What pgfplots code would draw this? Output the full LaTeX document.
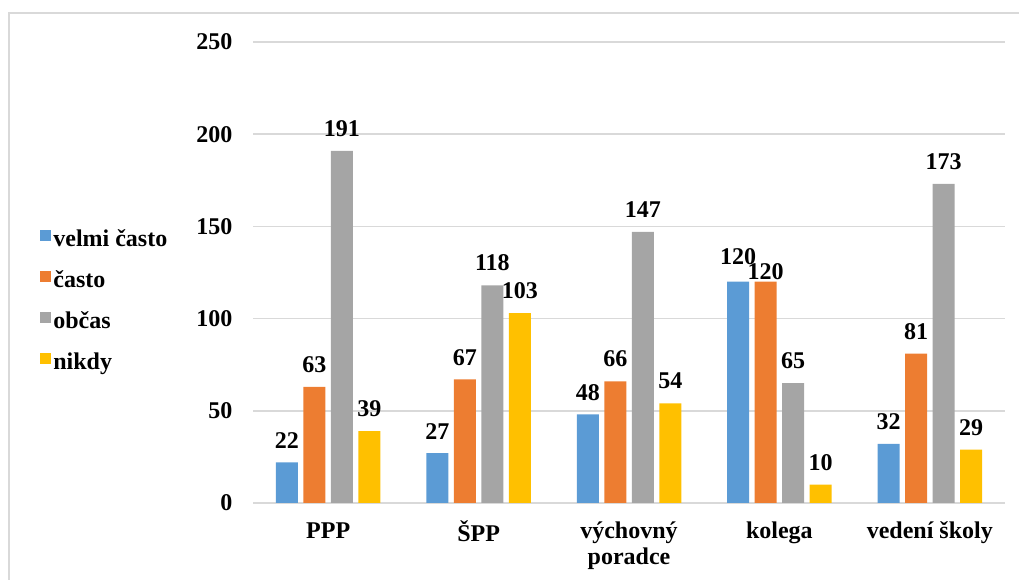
\documentclass[border=0pt]{standalone}
\usepackage{fontspec}
\setmainfont{Liberation Serif}
\usepackage{pgfplots}
\pgfplotsset{compat=1.18}
\definecolor{cblue}{HTML}{5B9BD5}
\definecolor{corange}{HTML}{ED7D31}
\definecolor{cgray}{HTML}{A5A5A5}
\definecolor{cyellow}{HTML}{FFC000}
\definecolor{gridgray}{HTML}{D9D9D9}
\newcommand{\bigbf}{\bfseries\fontsize{24}{26}\selectfont}
\newcommand{\uplab}[1]{\raisebox{3pt}{#1}}
\newcommand{\downlab}[1]{\raisebox{-12pt}[0pt][0pt]{#1}}
\newcommand{\st}{\rule{0pt}{18pt}}
\begin{document}
\begin{tikzpicture}
\useasboundingbox (0,0) rectangle (1019pt,580pt);
\draw[gridgray, line width=1.5pt] (9pt,0pt) -- (9pt,567pt) -- (1019pt,567pt);
\begin{axis}[
  at={(253pt,77pt)}, anchor=south west,
  scale only axis, width=752pt, height=461pt,
  ybar=5.5pt, bar width=22pt,
  xmin=-0.5, xmax=4.5, ymin=0, ymax=250,
  ytick={0,50,100,150,200,250},
  xtick={0,1,2,3,4},
  xticklabels={\st PPP,\st ŠPP,{\st výchovný\\poradce},\st kolega,{\st vedení školy}},
  xticklabel style={font=\bigbf, align=center, inner sep=0pt, anchor=north, yshift=-17pt},
  /pgf/number format/assume math mode=true,
  yticklabel style={font=\bigbf, xshift=-17pt},
  axis line style={draw=none},
  major tick length=0pt,
  ymajorgrids, grid style={gridgray, line width=1.5pt},
  point meta=explicit symbolic,
  nodes near coords={\pgfplotspointmeta},
  every node near coord/.append style={font=\bigbf, inner sep=0pt, yshift=14pt, black},
  legend image code/.code={\fill[#1] (-3pt,0pt) rectangle (8pt,11pt);},
  legend style={at={(-0.287,0.434)}, anchor=west, draw=none, fill=none, font=\bigbf,
    row sep=14pt, nodes={inner sep=2pt, text height=17pt, text depth=6pt}},
  legend cell align=left,
]
\addplot[fill=cblue, draw=none] coordinates {(0,22) [22] (1,27) [27] (2,48) [48] (3,120) [\uplab{120}] (4,32) [32]};
\addplot[fill=corange, draw=none] coordinates {(0,63) [63] (1,67) [67] (2,66) [66] (3,120) [\downlab{120}] (4,81) [81]};
\addplot[fill=cgray, draw=none] coordinates {(0,191) [191] (1,118) [118] (2,147) [147] (3,65) [65] (4,173) [173]};
\addplot[fill=cyellow, draw=none] coordinates {(0,39) [39] (1,103) [103] (2,54) [54] (3,10) [10] (4,29) [29]};
\legend{velmi často, často, občas, nikdy}
\end{axis}
\end{tikzpicture}
\end{document}
